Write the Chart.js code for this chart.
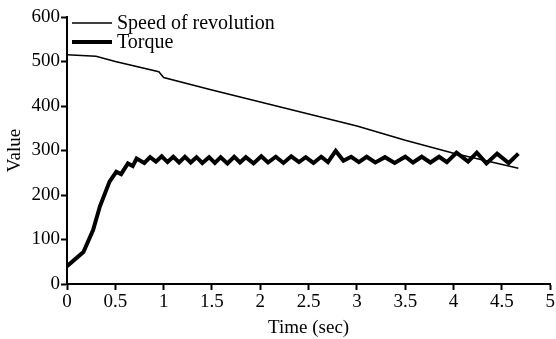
<!DOCTYPE html>
<html>
<head>
<meta charset="utf-8">
<script src="https://cdn.jsdelivr.net/npm/chart.js@4"></script>
<style>
  html, body { margin: 0; padding: 0; background: #fff; }
  #wrap { width: 556px; height: 339px; }
</style>
</head>
<body>
<div id="wrap"><canvas id="myChart" width="556" height="339"></canvas></div>
<script>
// speed of revolution
const speedTime = [0, 0.3, 0.5, 0.95, 1.0, 1.5, 2.0, 2.5, 3.0, 3.5, 4.0, 4.67];
const speedValue = [515, 512, 500, 477, 464, 436, 409, 382, 355, 323, 294, 260];

// torque
const torqueTime = [0, 0.17, 0.27, 0.34, 0.44, 0.51, 0.56, 0.63, 0.68, 0.72,
  0.80, 0.86, 0.92, 0.98, 1.04, 1.10, 1.16, 1.22, 1.28, 1.34, 1.40, 1.47, 1.53,
  1.59, 1.66, 1.73, 1.79, 1.85, 1.93, 2.01, 2.08, 2.16, 2.24, 2.32, 2.40, 2.47,
  2.55, 2.63, 2.70, 2.78, 2.86, 2.94, 3.02, 3.10, 3.19, 3.29, 3.39, 3.50, 3.58,
  3.67, 3.76, 3.85, 3.93, 4.03, 4.15, 4.24, 4.34, 4.45, 4.57, 4.67];
const torqueValue = [40, 72, 121, 174, 230, 252, 247, 271, 265, 282,
  272, 285, 275, 287, 274, 286, 273, 286, 273, 285, 272, 285, 272,
  285, 271, 286, 273, 285, 271, 287, 273, 286, 272, 287, 274, 285,
  272, 286, 274, 299, 277, 286, 274, 286, 273, 285, 272, 286, 273,
  286, 273, 286, 274, 295, 275, 295, 271, 293, 272, 293];

const xTicks = [0, 0.5, 1, 1.5, 2, 2.5, 3, 3.5, 4, 4.5, 5];
const xTickLabels = ["0", "0.5", "1", "1.5", "2", "2.5", "3", "3.5", "4", "4.5", "5"];
const seriesNames = ["Speed of revolution", "Torque"];

const FONT = "'Liberation Serif', 'Times New Roman', serif";

const speedPts = speedTime.map((t, i) => ({ x: t, y: speedValue[i] }));
const torquePts = torqueTime.map((t, i) => ({ x: t, y: torqueValue[i] }));

// legend drawn inside the plot, top left
const legendPlugin = {
  id: 'insideLegend',
  afterDraw(chart) {
    const ctx = chart.ctx;
    const left = chart.chartArea.left;
    const rows = [{ y: 23, w: 1.5 }, { y: 42, w: 4 }];
    ctx.save();
    ctx.font = "20px " + FONT;
    ctx.fillStyle = '#000';
    ctx.strokeStyle = '#000';
    ctx.textBaseline = 'middle';
    rows.forEach((r, i) => {
      ctx.lineWidth = r.w;
      ctx.beginPath();
      ctx.moveTo(left + 5, r.y);
      ctx.lineTo(left + 45, r.y);
      ctx.stroke();
      ctx.fillText(seriesNames[i], left + 50, r.y + 1);
    });
    ctx.restore();
  }
};

const data = {
  datasets: [
    {
      label: seriesNames[0],
      data: speedPts,
      borderColor: '#000',
      borderWidth: 1.5,
      pointRadius: 0,
      tension: 0
    },
    {
      label: seriesNames[1],
      data: torquePts,
      borderColor: '#000',
      borderWidth: 4,
      pointRadius: 0,
      tension: 0,
      borderJoinStyle: 'miter'
    }
  ]
};

const config = {
  type: 'line',
  data: data,
  options: {
    responsive: false,
    animation: false,
    layout: { padding: { top: 17, right: 4, left: 0, bottom: 0 } },
    plugins: {
      legend: { display: false },
      tooltip: { enabled: false }
    },
    scales: {
      x: {
        type: 'linear',
        min: 0,
        max: 5,
        afterBuildTicks: (s) => { s.ticks = xTicks.map(v => ({ value: v })); },
        afterFit: (s) => { s.height = 55; },
        border: { color: '#000', width: 2 },
        grid: { drawOnChartArea: false, tickLength: 6, tickWidth: 2, color: '#000' },
        ticks: {
          color: '#000', font: { family: FONT, size: 19 }, padding: 1, maxRotation: 0,
          callback: (v) => xTickLabels[xTicks.indexOf(v)]
        },
        title: { display: true, text: 'Time (sec)', color: '#000', font: { family: FONT, size: 19 }, padding: { top: 0, bottom: 0 } }
      },
      y: {
        min: 0,
        max: 600,
        afterFit: (s) => { s.width = 67; },
        border: { color: '#000', width: 2 },
        grid: { drawOnChartArea: false, tickLength: 6, tickWidth: 2, color: '#000' },
        ticks: { stepSize: 100, color: '#000', font: { family: FONT, size: 19 }, padding: 1 },
        title: { display: true, text: 'Value', color: '#000', font: { family: FONT, size: 19 }, padding: { top: 4, bottom: 0 } }
      }
    }
  },
  plugins: [legendPlugin]
};

const myChart = new Chart(document.getElementById('myChart'), config);
</script>
</body>
</html>
